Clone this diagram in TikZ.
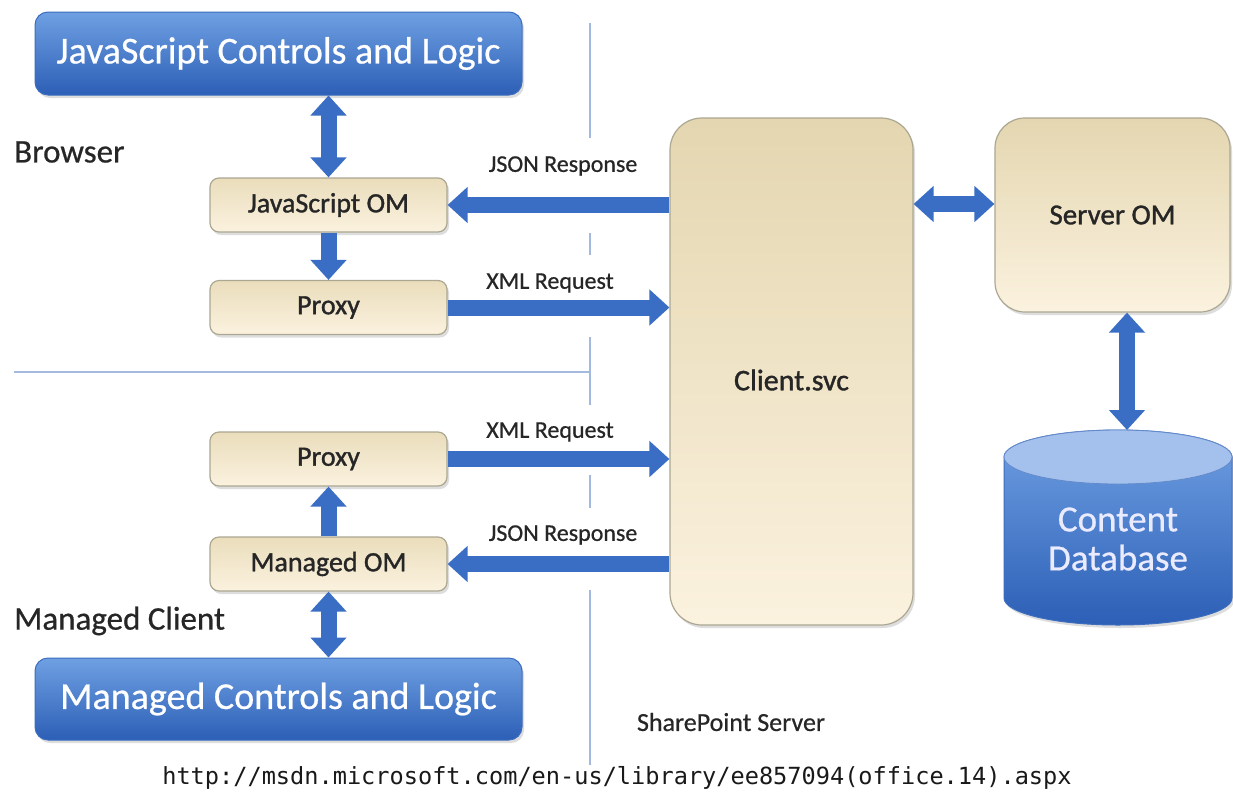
\documentclass[tikz,border=0pt]{standalone}
\usepackage{fontspec}
\setmainfont{Carlito}
\newfontfamily\semib[FakeBold=1.2]{Carlito}
\newfontfamily\midw[FakeBold=0.6]{Carlito}
\newfontfamily\urlfont{DejaVu Sans Mono}
\usetikzlibrary{arrows.meta,shadows}
\definecolor{bluetop}{HTML}{6FA0E3}
\definecolor{bluebot}{HTML}{2C5FB6}
\definecolor{blueedge}{HTML}{3D6DBE}
\definecolor{beigetop}{HTML}{E4D6B0}
\definecolor{beigebot}{HTML}{FBF2DF}
\definecolor{beigeedge}{HTML}{ABA792}
\definecolor{arrowblue}{HTML}{3A6EC4}
\definecolor{sepline}{HTML}{A3B9DE}
\definecolor{dbcap}{HTML}{A4C0EC}
\definecolor{labeltext}{HTML}{262626}
\tikzset{
  shade/.style={drop shadow={shadow xshift=2pt,shadow yshift=-3pt,opacity=0.22,fill=black!60}},
  bluebox/.style={rounded corners=13pt, draw=blueedge, line width=1pt, top color=bluetop, bottom color=bluebot,
    text=white, inner sep=0pt, font=\midw\fontsize{38}{40}\selectfont, shade},
  beigebox/.style={rounded corners=9pt, draw=beigeedge, line width=1.2pt, top color=beigetop!75!beigebot, bottom color=beigebot,
    text=labeltext, inner sep=0pt, minimum width=237pt, minimum height=54pt, font=\semib\fontsize{28}{30}\selectfont, shade},
  bigbeige/.style={beigebox, top color=beigetop, rounded corners=32pt},
  side/.style={anchor=west, text=black!85, inner sep=0pt, font=\midw\fontsize{33}{35}\selectfont},
  arrlabel/.style={text=labeltext, inner sep=0pt, font=\midw\fontsize{24}{26}\selectfont},
  barrow/.style={draw=arrowblue, line width=16pt, -{Triangle[width=35pt,length=20pt]}},
  dblarrow/.style={draw=arrowblue, line width=16pt, {Triangle[width=35pt,length=20pt]}-{Triangle[width=35pt,length=20pt]}},
  sep/.style={draw=sepline, line width=2pt}
}
\begin{document}
\begin{tikzpicture}[x=1pt,y=-1pt]
\useasboundingbox (0,0) rectangle (1233,804);
\fill[white] (0,0) rectangle (1233,804);

% separators
\draw[sep] (590,23) -- (590,138);
\draw[sep] (590,233) -- (590,255);
\draw[sep] (590,337) -- (590,405);
\draw[sep] (590,475) -- (590,508);
\draw[sep] (590,590) -- (590,765);
\draw[sep] (14,372) -- (590,372);

% blue boxes
\node[bluebox, minimum width=487pt, minimum height=83pt] (jsc) at (278.5,53.5) {JavaScript Controls and Logic};
\node[bluebox, minimum width=487pt, minimum height=82pt] (mcl) at (278.5,699) {Managed Controls and Logic};

% beige boxes
\node[beigebox] (jsom) at (328.5,205) {JavaScript OM};
\node[beigebox] (proxa) at (328.5,307.5) {Proxy};
\node[beigebox] (proxb) at (328.5,459) {Proxy};
\node[beigebox] (mom) at (328.5,564) {Managed OM};
\node[bigbeige, minimum width=243pt, minimum height=507pt] (cs) at (791.5,371.5) {};
\node[text=labeltext, inner sep=0pt, font=\semib\fontsize{30}{32}\selectfont] (cslabel) at (791.5,380) {Client.svc};
\node[bigbeige, rounded corners=30pt, minimum width=235pt, minimum height=194pt, font=\semib\fontsize{29}{31}\selectfont] (so) at (1112.5,215) {Server OM};

% database cylinder
\path[top color=bluetop, bottom color=bluebot, draw=blueedge, line width=1pt, shade]
  (1004,457) -- (1004,598)
  .. controls (1004,612.9) and (1055,625) .. (1118,625)
  .. controls (1181,625) and (1232,612.9) .. (1232,598)
  -- (1232,457)
  .. controls (1232,442.1) and (1181,430) .. (1118,430)
  .. controls (1055,430) and (1004,442.1) .. (1004,457) -- cycle;
\fill[dbcap] (1118,457) ellipse [x radius=114pt, y radius=27pt];
\draw[blueedge!80, line width=0.8pt] (1118,457) ellipse [x radius=114pt, y radius=27pt];
\coordinate (dbtop) at (1118,430);
\node[text=white!92!blue, inner sep=0pt, align=center, font=\midw\fontsize{37}{39}\selectfont] (db) at (1118,539) {Content\\Database};

% side labels
\node[side] (browser) at (14,152) {Browser};
\node[side] (mclient) at (14,621) {Managed Client};
\node[inner sep=0pt, text=black!85, font=\midw\fontsize{26}{28}\selectfont] (sps) at (731,722) {SharePoint Server};
\node[inner sep=0pt, text=black!90, font=\urlfont\fontsize{23.6}{25}\selectfont] (url) at (617,778) {http://msdn.microsoft.com/en-us/library/ee857094(office.14).aspx};

% arrow labels
\node[arrlabel] (l1) at (563,166) {JSON Response};
\node[arrlabel] (l2) at (550,283) {XML Request};
\node[arrlabel] (l3) at (550,432) {XML Request};
\node[arrlabel] (l4) at (563,535) {JSON Response};

% arrows
\draw[dblarrow] (jsom.north |- jsc.south) -- (jsom.north);
\draw[barrow] (jsom.south) -- (proxa.north);
\draw[barrow] (mom.north) -- (proxb.south);
\draw[dblarrow] (mom.south) -- (mom.south |- mcl.north);
\draw[barrow] (cs.west |- jsom.east) -- (jsom.east);
\draw[barrow] (proxa.east) -- (cs.west |- proxa.east);
\draw[barrow] (proxb.east) -- (cs.west |- proxb.east);
\draw[barrow] (cs.west |- mom.east) -- (mom.east);
\coordinate (sa) at ([yshift=11pt]so.west);
\draw[dblarrow] (cs.east |- sa) -- (sa);
\coordinate (sb) at ([xshift=14.5pt]so.south);
\draw[dblarrow] (sb) -- (sb |- dbtop);
\end{tikzpicture}
\end{document}
